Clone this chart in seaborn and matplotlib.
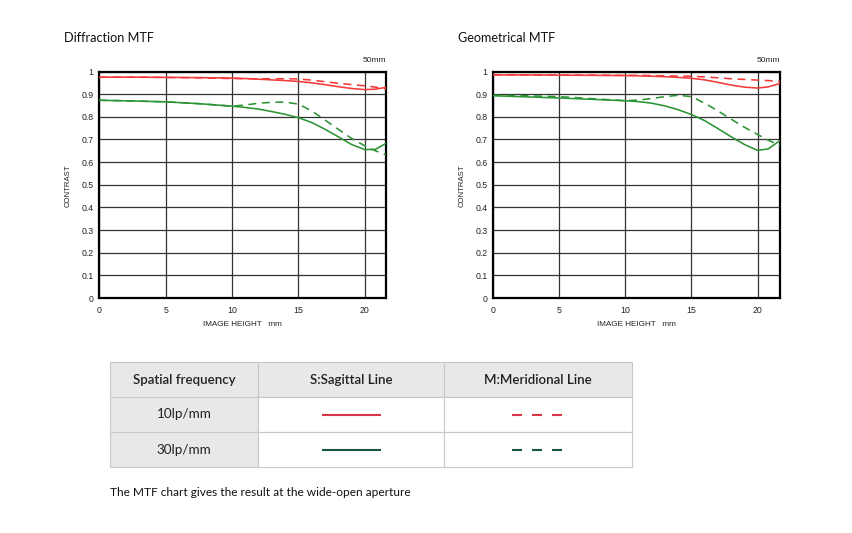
import numpy as np
import pandas as pd
import matplotlib
matplotlib.use("Agg")
import matplotlib.pyplot as plt
import seaborn as sns
from matplotlib.patches import Rectangle
from matplotlib.lines import Line2D

sns.set_theme(style="white")
plt.rcParams['font.family'] = ['Liberation Sans', 'DejaVu Sans']

# ---------------- data ----------------
diff_x = [0, 2.5, 5, 7.5, 10, 11, 12, 13, 14, 15, 16, 17, 18, 19, 20, 20.8, 21.6]
diff_10_s = [0.975, 0.975, 0.974, 0.973, 0.971, 0.969, 0.966, 0.963, 0.960, 0.956, 0.950, 0.942, 0.933, 0.925, 0.920, 0.922, 0.930]
diff_10_m = [0.975, 0.975, 0.974, 0.972, 0.969, 0.968, 0.968, 0.968, 0.968, 0.967, 0.962, 0.955, 0.948, 0.942, 0.937, 0.931, 0.923]
diff_30_s = [0.873, 0.870, 0.866, 0.858, 0.847, 0.841, 0.834, 0.823, 0.811, 0.796, 0.775, 0.745, 0.712, 0.678, 0.655, 0.656, 0.683]
diff_30_m = [0.873, 0.870, 0.866, 0.858, 0.847, 0.852, 0.860, 0.864, 0.865, 0.856, 0.826, 0.786, 0.745, 0.705, 0.672, 0.650, 0.632]

geo_x = [0, 2.5, 5, 7.5, 10, 11, 12, 13, 14, 15, 16, 17, 18, 19, 20, 20.8, 21.7]
geo_10_s = [0.985, 0.985, 0.984, 0.983, 0.982, 0.981, 0.979, 0.977, 0.974, 0.970, 0.963, 0.952, 0.940, 0.931, 0.927, 0.932, 0.947]
geo_10_m = [0.985, 0.985, 0.984, 0.984, 0.983, 0.983, 0.982, 0.981, 0.980, 0.979, 0.976, 0.972, 0.968, 0.965, 0.962, 0.960, 0.956]
geo_30_s = [0.893, 0.888, 0.883, 0.877, 0.871, 0.867, 0.860, 0.848, 0.831, 0.810, 0.783, 0.748, 0.712, 0.678, 0.652, 0.658, 0.695]
geo_30_m = [0.895, 0.893, 0.889, 0.880, 0.871, 0.874, 0.881, 0.889, 0.895, 0.889, 0.860, 0.826, 0.790, 0.754, 0.722, 0.697, 0.673]

titles = ["Diffraction MTF", "Geometrical MTF"]
x_ticks = [0, 5, 10, 15, 20]
y_ticks = [0, 0.1, 0.2, 0.3, 0.4, 0.5, 0.6, 0.7, 0.8, 0.9, 1.0]
y_tick_labels = ["0", "0.1", "0.2", "0.3", "0.4", "0.5", "0.6", "0.7", "0.8", "0.9", "1"]
focal = "50mm"

freq_labels = ["10lp/mm", "30lp/mm"]
table_header = ["Spatial frequency", "S:Sagittal Line", "M:Meridional Line"]
footnote = "The MTF chart gives the result at the wide-open aperture"

RED = "#f23a3a"
GREEN = "#2b9434"
TABLE_RED = "#d93448"
TABLE_GREEN = "#17593a"

W, H = 852, 533
fig = plt.figure(figsize=(W / 100, H / 100), dpi=100)


def fx(px):
    return px / W


def fy(py):
    return 1 - py / H


def build_df(x, s10, m10, s30, m30):
    rows = []
    for name, vals in [("10S", s10), ("10M", m10), ("30S", s30), ("30M", m30)]:
        for xi, yi in zip(x, vals):
            rows.append({"x": xi, "y": yi, "series": name})
    return pd.DataFrame(rows)


datasets = [
    (diff_x, diff_10_s, diff_10_m, diff_30_s, diff_30_m),
    (geo_x, geo_10_s, geo_10_m, geo_30_s, geo_30_m),
]

ax_left_px = [99.3, 493.3]
ax_right_px = [386.0, 780.0]
ax_top_px = 71.5
ax_bot_px = 298.0

palette = {"10S": RED, "10M": RED, "30S": GREEN, "30M": GREEN}
dashes = {"10S": "", "10M": (5, 3.5), "30S": "", "30M": (5, 3.5)}

for i in range(2):
    l, r = ax_left_px[i], ax_right_px[i]
    ax = fig.add_axes([fx(l), fy(ax_bot_px), (r - l) / W, (ax_bot_px - ax_top_px) / H])
    df = build_df(*datasets[i])
    xmax = datasets[i][0][-1]
    sns.lineplot(data=df, x="x", y="y", hue="series", style="series",
                 palette=palette, dashes=dashes, linewidth=1.15, legend=False,
                 ax=ax, sort=False, zorder=3)
    ax.set_xlim(0, xmax)
    ax.set_ylim(0, 1)
    ax.set_xticks(x_ticks)
    ax.set_xticklabels([str(t) for t in x_ticks])
    ax.set_yticks(y_ticks)
    ax.set_yticklabels(y_tick_labels)
    ax.grid(True, color="#333333", linewidth=0.9)
    ax.set_axisbelow(True)
    for sp in ax.spines.values():
        sp.set_visible(True)
        sp.set_color("black")
        sp.set_linewidth(1.6)
    ax.tick_params(axis="both", length=0, labelsize=6.3, colors="#222222")
    ax.tick_params(axis="y", pad=4)
    ax.tick_params(axis="x", pad=6)
    ax.set_xlabel("")
    ax.set_ylabel("")
    # titles and labels
    fig.text(fx(l - 35), fy(38), titles[i], fontsize=9.1, family=["Lato", "DejaVu Sans"],
             ha="left", va="center", color="#111111")
    fig.text(fx(r), fy(61), focal, fontsize=6, ha="right", va="center", color="#222222")
    fig.text(fx(l - 31), fy(186), "CONTRAST", fontsize=5.6, rotation=90,
             ha="center", va="center", color="#222222")
    fig.text(fx(l + 143), fy(324.5), "IMAGE HEIGHT   mm", fontsize=5.9,
             ha="center", va="center", color="#222222")

# ---------------- table ----------------
col_edges = [110, 258, 444, 632]
row_edges = [362, 397, 432, 467]
GRAY = "#e8e8e8"
BORDER = "#c8c8c8"
for ri in range(3):
    for ci in range(3):
        x0, x1 = col_edges[ci], col_edges[ci + 1]
        y0, y1 = row_edges[ri], row_edges[ri + 1]
        face = GRAY if (ri == 0 or ci == 0) else "white"
        fig.add_artist(Rectangle((fx(x0), fy(y1)), (x1 - x0) / W, (y1 - y0) / H,
                                 transform=fig.transFigure, facecolor=face,
                                 edgecolor=BORDER, linewidth=0.8))

tfont = ["Lato", "DejaVu Sans"]
for ci, txt in enumerate(table_header):
    cx = (col_edges[ci] + col_edges[ci + 1]) / 2
    fig.text(fx(cx), fy(379.5), txt, fontsize=9.6, family=tfont, ha="center", va="center",
             color="#222222", fontweight="semibold")

for ri, (lab, col) in enumerate(zip(freq_labels, [TABLE_RED, TABLE_GREEN])):
    cy = (row_edges[ri + 1] + row_edges[ri + 2]) / 2
    fig.text(fx(184), fy(cy), lab, fontsize=9.7, family=tfont, ha="center", va="center",
             color="#222222")
    fig.add_artist(Line2D([fx(322), fx(381)], [fy(cy), fy(cy)], transform=fig.transFigure,
                          color=col, linewidth=1.5, solid_capstyle="butt"))
    fig.add_artist(Line2D([fx(512), fx(563)], [fy(cy), fy(cy)], transform=fig.transFigure,
                          color=col, linewidth=1.5, dashes=(4.8, 4.8), dash_capstyle="butt"))

fig.text(fx(110), fy(492), footnote, fontsize=8.6, family=tfont, ha="left", va="center",
         color="#111111")

fig.savefig("out.png", dpi=100)
